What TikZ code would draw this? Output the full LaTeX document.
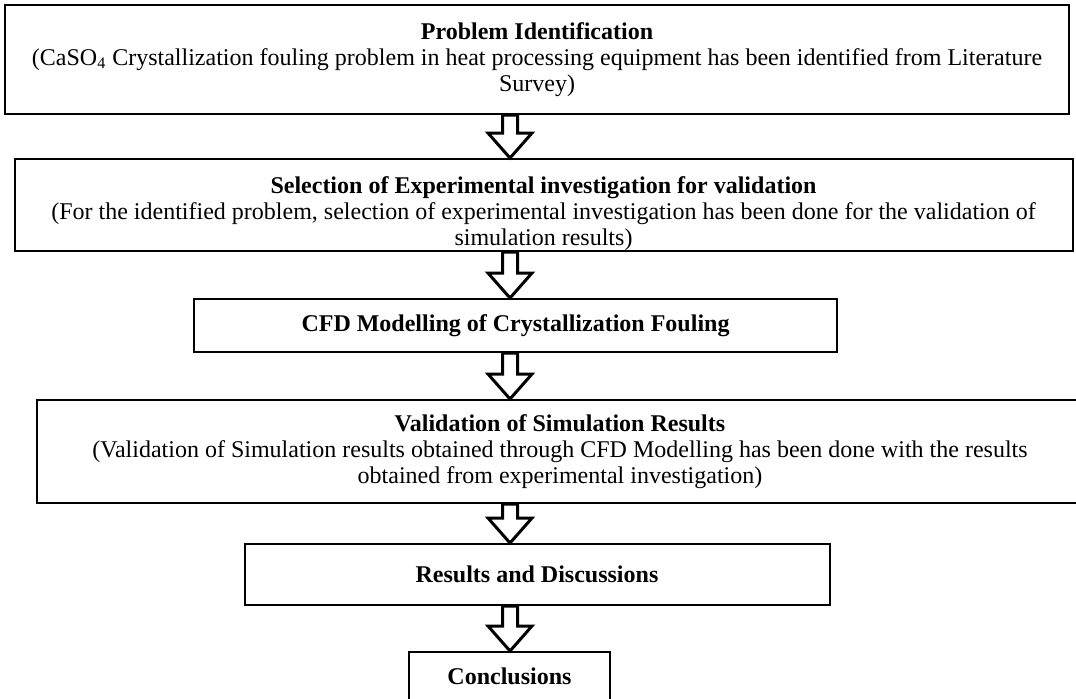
\documentclass[tikz,border=0pt]{standalone}
\usepackage{fontspec}
\setmainfont{Liberation Serif}
\usetikzlibrary{calc}

% hollow block arrow from the bottom of one box to the top of the next
\newcommand{\flowstep}[2]{%
  \draw[hollowarrow] let \p1=(#1.south -| axis), \p2=(#2.north -| axis) in
    ({\x1-3.75pt},\y1) -- ({\x1-3.75pt},{\y2+12.5pt}) -- ({\x1-11pt},{\y2+12.5pt})
    -- (\x2,\y2) -- ({\x1+11pt},{\y2+12.5pt}) -- ({\x1+3.75pt},{\y2+12.5pt})
    -- ({\x1+3.75pt},\y1) -- cycle;}

\begin{document}
\begin{tikzpicture}[x=0.5pt, y=-0.5pt,
    box/.style={draw, line width=1pt, inner sep=0pt, align=center,
      font=\fontsize{12}{13}\selectfont},
    hollowarrow/.style={draw, fill=white, line width=1.5pt, line join=miter}]
    \useasboundingbox (0,0) rectangle (1076,698);
    \coordinate (axis) at (510,0);

    \node[box, minimum width=532pt, minimum height=54.5pt] (ident) at (537,59.5)
        {\textbf{Problem Identification}\\
         (CaSO\textsubscript{4} Crystallization fouling problem in heat processing equipment has been identified from Literature\\
         Survey)};
    \node[box, minimum width=529pt, minimum height=46pt] (select) at (543.5,205)
        {\raisebox{-7.5pt}[0pt][0pt]{\begin{tabular}{@{}c@{}}
         \textbf{Selection of Experimental investigation for validation}\\
         (For the identified problem, selection of experimental investigation has been done for the validation of\\
         simulation results)\end{tabular}}};
    \node[box, minimum width=321.5pt, minimum height=26.5pt] (cfd) at (515.5,325.5)
        {\textbf{CFD Modelling of Crystallization Fouling}};
    \node[box, minimum width=523pt, minimum height=51.5pt] (valid) at (560,451.5)
        {\textbf{Validation of Simulation Results}\\
         (Validation of Simulation results obtained through CFD Modelling has been done with the results\\
         obtained from experimental investigation)};
    \node[box, minimum width=292.5pt, minimum height=30.5pt] (results) at (537,574.5)
        {\textbf{Results and Discussions}};
    \node[box, minimum width=100.5pt, minimum height=24pt] (concl) at (509.5,676)
        {\textbf{Conclusions}};

    \flowstep{ident}{select}
    \flowstep{select}{cfd}
    \flowstep{cfd}{valid}
    \flowstep{valid}{results}
    \flowstep{results}{concl}
\end{tikzpicture}
\end{document}
